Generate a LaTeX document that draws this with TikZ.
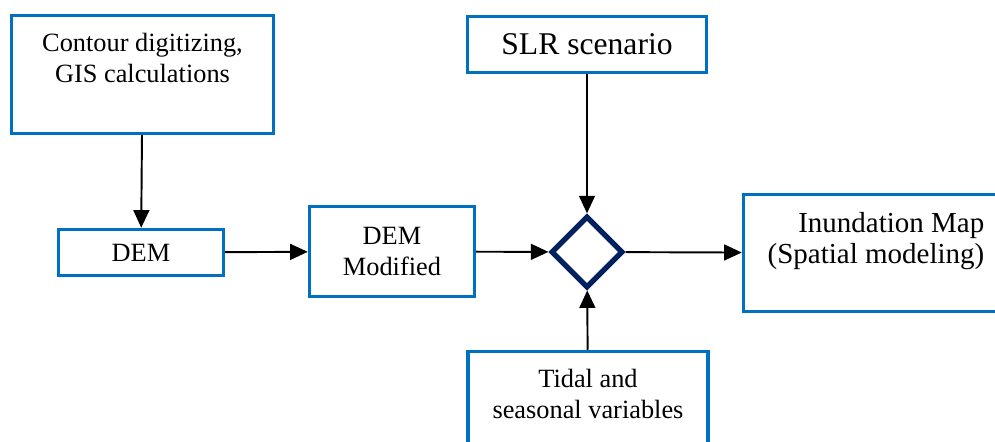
\documentclass[tikz,border=0pt]{standalone}
\usepackage{fontspec}
\setmainfont{Liberation Serif}
\usetikzlibrary{shapes.geometric,arrows.meta}
\definecolor{boxblue}{RGB}{0,112,192}
\definecolor{navyline}{RGB}{0,32,96}
\begin{document}
\begin{tikzpicture}[x=0.02cm,y=-0.02cm,
        box/.style={draw=boxblue,line width=2pt,align=center,inner sep=2pt,
            font=\fontsize{15}{18}\selectfont},
        link/.style={line width=1.1pt,-{Triangle[length=10pt,width=9pt]}}]
        \clip (0,0) rectangle (995,442);
        %% NOTE: boxes with text at the top get a large text depth
        \node[box,minimum width=5.24cm,minimum height=2.36cm,text depth=19pt] (contour) at (142.5,74.5) {Contour digitizing,\\GIS calculations};
        \node[box,minimum width=3.3cm,minimum height=0.92cm] (dem) at (141,252.5) {DEM};
        \node[box,minimum width=3.3cm,minimum height=1.8cm] (demmod) at (392,251.5) {DEM\\Modified};
        \node[box,minimum width=4.78cm,minimum height=1.12cm,font=\fontsize{18}{21}\selectfont] (slr) at (587,44.5) {SLR scenario};
        \node[box,minimum width=4.8cm,minimum height=2.36cm,text depth=19pt] (tidal) at (588,410.5) {Tidal and\\seasonal variables};
        \node[box,minimum width=5.3cm,minimum height=2.34cm,text depth=17pt,align=right,
            font=\fontsize{16.5}{18}\selectfont] (inund) at (876,253) {Inundation Map\\(Spatial modeling)};
        \node[draw=navyline,line width=3pt,diamond,minimum size=1.44cm,inner sep=0pt] (merge) at (587,252) {};
        %% connectors
        \draw[link] (contour) -- (dem);
        \draw[link] (dem) -- (demmod);
        \draw[link] (demmod) -- (merge);
        \draw[link] (slr) -- (merge);
        \draw[link] (tidal) -- (merge);
        \draw[link] (merge) -- (inund);
    \end{tikzpicture}
\end{document}
